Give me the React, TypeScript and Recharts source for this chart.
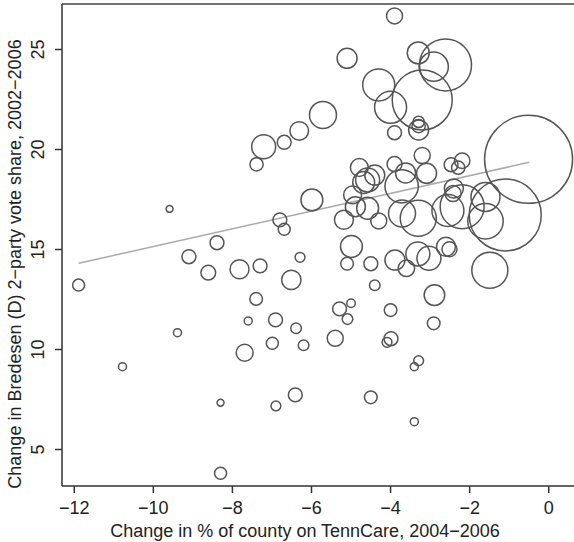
import {
  ScatterChart,
  Scatter,
  XAxis,
  YAxis,
  ZAxis,
  ReferenceLine,
} from "recharts"

// change in % of county on TennCare, 2004-2006
const tennCareChange = [
  -11.89, -10.78, -9.59, -9.39, -9.1, -8.61, -8.39, -8.3, -8.3, -7.82,
  -7.69, -7.6, -7.4, -7.39, -7.3, -7.21, -6.99, -6.91, -6.9, -6.8,
  -6.69, -6.69, -6.51, -6.41, -6.39, -6.31, -6.29, -6.2, -5.99, -5.71,
  -5.4, -5.29, -5.18, -5.1, -5.1, -5.09, -5.0, -4.99, -4.96, -4.89,
  -4.79, -4.68, -4.58, -4.58, -4.5, -4.5, -4.4, -4.4, -4.3, -4.3,
  -4.09, -4.0, -4.0, -3.99, -3.9, -3.9, -3.9, -3.89, -3.72, -3.71,
  -3.62, -3.6, -3.4, -3.4, -3.3, -3.3, -3.31, -3.29, -3.29, -3.29,
  -3.29, -3.2, -3.2, -3.09, -3.03, -2.91, -2.89, -2.91, -2.61, -2.6,
  -2.51, -2.55, -2.47, -2.4, -2.42, -2.29, -2.19, -2.19, -1.6, -1.6,
  -1.49, -1.1, -0.51,
]

// change in Bredesen (D) 2-party vote share, 2002-2006
const voteShareChange = [
  13.22, 9.14, 17.03, 10.84, 14.64, 13.84, 15.34, 7.34, 3.81, 14.01,
  9.84, 11.43, 12.53, 19.26, 14.18, 20.14, 10.31, 11.48, 7.18, 16.48,
  20.36, 16.01, 13.48, 7.73, 11.06, 20.93, 14.61, 10.21, 17.48, 21.73,
  10.56, 12.03, 16.49, 24.56, 14.29, 11.52, 12.31, 15.15, 17.73, 17.14,
  19.1, 18.35, 17.06, 18.48, 14.29, 7.61, 18.72, 13.21, 23.23, 16.43,
  10.36, 22.11, 11.97, 10.54, 26.68, 20.84, 19.27, 14.47, 18.16, 16.8,
  18.83, 14.06, 9.14, 6.39, 24.83, 16.56, 14.78, 21.38, 21.17, 20.98,
  9.44, 22.48, 19.7, 18.81, 14.56, 24.14, 12.72, 11.31, 24.23, 15.14,
  15.01, 16.95, 19.24, 18.05, 17.8, 19.09, 19.44, 17.14, 17.63, 16.41,
  13.96, 16.73, 19.51,
]

// county population, thousands (bubble area)
const countyPop = [
  18, 8, 6, 8, 24, 27, 24, 6, 18, 45,
  36, 8, 20, 22, 24, 72, 18, 24, 12, 24,
  24, 18, 47, 24, 14, 43, 12, 14, 60, 91,
  32, 24, 45, 50, 20, 14, 9, 60, 40, 50,
  40, 60, 60, 72, 24, 20, 50, 14, 128, 32,
  12, 128, 20, 24, 32, 24, 28, 50, 139, 91,
  50, 34, 8, 8, 60, 162, 72, 16, 22, 50,
  12, 450, 32, 50, 72, 107, 53, 20, 338, 45,
  28, 128, 24, 45, 32, 22, 30, 242, 105, 157,
  162, 648, 968,
]

const fitX = [-11.89, -0.49]
const fitY = [14.31, 19.36]

const xTicks = [-12, -10, -8, -6, -4, -2, 0]
const yTicks = [5, 10, 15, 20, 25]

const xDomain = [-12.31, 0.74]
const yDomain = [3.175, 27.275]
const popMax = 968

const FONT = '"Liberation Sans", Arial, Helvetica, sans-serif'
const INK = "#222"
const FS = 18

const data = tennCareChange.map((x, i) => ({
  x,
  y: voteShareChange[i],
  z: countyPop[i],
}))

function YTick(props: any) {
  const { x, y, payload } = props
  return (
    <text
      x={x}
      y={y}
      transform={`rotate(-90 ${x} ${y})`}
      textAnchor="middle"
      fontSize={FS}
      fontFamily={FONT}
      fill={INK}
    >
      {payload.value}
    </text>
  )
}

export default function App() {
  return (
    <div
      style={{
        position: "absolute",
        left: 0,
        top: 0,
        width: 574,
        height: 542,
        overflow: "hidden",
        background: "#fff",
      }}
    >
      <ScatterChart
        width={600}
        height={542}
        margin={{ top: 4, right: 22, bottom: 0, left: 0 }}
      >
        <XAxis
          type="number"
          dataKey="x"
          domain={xDomain}
          allowDataOverflow
          ticks={xTicks}
          height={56}
          stroke="#333"
          strokeWidth={1.5}
          tickSize={7}
          tickMargin={8}
          tick={{ fontSize: FS, fontFamily: FONT, fill: INK }}
          tickFormatter={(v) => String(v).replace("-", "\u2212")}
          label={() => (
            <text
              x={305}
              y={537}
              textAnchor="middle"
              fontSize={FS}
              fontFamily={FONT}
              fill={INK}
            >
              Change in % of county on TennCare, 2004{"\u2212"}2006
            </text>
          )}
        />
        <YAxis
          type="number"
          dataKey="y"
          domain={yDomain}
          allowDataOverflow
          ticks={yTicks}
          width={62}
          stroke="#333"
          strokeWidth={1.5}
          tickSize={7}
          tickMargin={11}
          tick={<YTick />}
          label={() => (
            <text
              x={21}
              y={264}
              transform="rotate(-90 21 264)"
              textAnchor="middle"
              fontSize={FS}
              fontFamily={FONT}
              fill={INK}
            >
              Change in Bredesen (D) 2{"\u2212"}party vote share, 2002{"\u2212"}2006
            </text>
          )}
        />
        <ZAxis
          type="number"
          dataKey="z"
          domain={[0, popMax]}
          range={[0, Math.PI * 2 * popMax]}
        />
        <ReferenceLine y={yDomain[1]} stroke="#444" strokeWidth={1.5} />
        <Scatter
          data={data}
          shape="circle"
          fill="none"
          stroke="#555"
          strokeWidth={1.5}
          isAnimationActive={false}
        />
        <ReferenceLine
          segment={[
            { x: fitX[0], y: fitY[0] },
            { x: fitX[1], y: fitY[1] },
          ]}
          stroke="#aaa"
          strokeWidth={1.5}
        />
      </ScatterChart>
    </div>
  )
}
